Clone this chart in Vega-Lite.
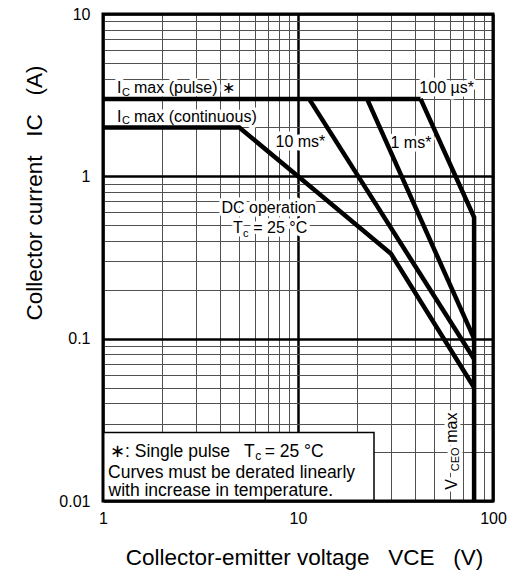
{
  "$schema": "https://vega.github.io/schema/vega-lite/v6.json",
  "width": 390,
  "height": 487,
  "autosize": "none",
  "padding": {"left": 103, "top": 14, "right": 14, "bottom": 76},
  "background": "white",
  "config": {"view": {"stroke": null}},
  "datasets": {
    "curves": [
      {"series": "IC max (pulse)", "i": 0, "x": 1, "y": 3},
      {"series": "IC max (pulse)", "i": 1, "x": 42.5, "y": 3},
      {"series": "100 us", "i": 0, "x": 42.5, "y": 3},
      {"series": "100 us", "i": 1, "x": 80, "y": 0.56},
      {"series": "100 us", "i": 2, "x": 80, "y": 0.01},
      {"series": "1 ms", "i": 0, "x": 22.6, "y": 3},
      {"series": "1 ms", "i": 1, "x": 80, "y": 0.1},
      {"series": "10 ms", "i": 0, "x": 11.4, "y": 3},
      {"series": "10 ms", "i": 1, "x": 80, "y": 0.075},
      {"series": "DC", "i": 0, "x": 1, "y": 2},
      {"series": "DC", "i": 1, "x": 5, "y": 2},
      {"series": "DC", "i": 2, "x": 10, "y": 1},
      {"series": "DC", "i": 3, "x": 30, "y": 0.333},
      {"series": "DC", "i": 4, "x": 80, "y": 0.05}
    ],
    "labels": [
      {"x": 1.18, "y": 3.249, "text": "I", "role": "label"},
      {"x": 1.252, "y": 3.127, "text": "C", "role": "sub"},
      {"x": 1.442, "y": 3.249, "text": "max (pulse) ∗", "role": "label"},
      {"x": 41.9, "y": 3.249, "text": "100 µs*", "role": "label"},
      {"x": 1.18, "y": 2.172, "text": "I", "role": "label"},
      {"x": 1.252, "y": 2.087, "text": "C", "role": "sub"},
      {"x": 1.442, "y": 2.172, "text": "max (continuous)", "role": "label"},
      {"x": 7.665, "y": 1.507, "text": "10 ms*", "role": "label"},
      {"x": 29.82, "y": 1.5, "text": "1 ms*", "role": "label"},
      {"x": 4.053, "y": 0.5928, "text": "DC operation", "role": "label"},
      {"x": 4.642, "y": 0.4464, "text": "T", "role": "label"},
      {"x": 5.223, "y": 0.4235, "text": "c", "role": "sub"},
      {"x": 5.9, "y": 0.4464, "text": "= 25 °C", "role": "label"},
      {"x": 1.086, "y": 0.01879, "text": "∗: Single pulse", "role": "note"},
      {"x": 5.284, "y": 0.01879, "text": "T", "role": "note"},
      {"x": 6.03, "y": 0.01794, "text": "c", "role": "notesub"},
      {"x": 6.75, "y": 0.01879, "text": "= 25 °C", "role": "note"},
      {"x": 1.061, "y": 0.0139, "text": "Curves must be derated linearly", "role": "note"},
      {"x": 1.067, "y": 0.01069, "text": "with increase in temperature.", "role": "note"},
      {"x": 65.0, "y": 0.01172, "text": "V", "role": "vlabel"},
      {"x": 66.9, "y": 0.01524, "text": "CEO", "role": "vsub"},
      {"x": 65.0, "y": 0.02283, "text": "max", "role": "vlabel"}
    ]
  },
  "encoding": {
    "x": {
      "field": "x",
      "type": "quantitative",
      "scale": {"type": "log", "domain": [1, 100], "nice": false},
      "axis": {
        "values": [1, 2, 3, 4, 5, 6, 7, 8, 9, 10, 20, 30, 40, 50, 60, 70, 80, 90, 100],
        "format": "~g",
        "labelExpr": "abs(log(datum.value)/LN10 - round(log(datum.value)/LN10)) < 1e-6 ? datum.label : ''",
        "grid": true,
        "gridColor": {"condition": {"test": "abs(log(datum.value)/LN10 - round(log(datum.value)/LN10)) < 1e-6", "value": "#000000"}, "value": "#505050"},
        "gridWidth": {"condition": {"test": "abs(log(datum.value)/LN10 - round(log(datum.value)/LN10)) < 1e-6", "value": 2.5}, "value": 1},
        "ticks": false,
        "tickSize": 0,
        "domain": false,
        "labelFont": "Liberation Sans",
        "labelFontSize": 16,
        "labelColor": "#000000",
        "labelPadding": 9,
        "labelFlush": false,
        "labelOverlap": false,
        "title": "Collector-emitter voltage \u00a0 VCE \u00a0 (V)",
        "titleFont": "Liberation Sans",
        "titleFontSize": 22.5,
        "titleFontWeight": "normal",
        "titleColor": "#000000",
        "titleX": 201,
        "titleY": 63,
        "titleAlign": "center",
        "titleBaseline": "alphabetic"
      }
    },
    "y": {
      "field": "y",
      "type": "quantitative",
      "scale": {"type": "log", "domain": [0.01, 10], "nice": false},
      "axis": {
        "values": [0.01, 0.02, 0.03, 0.04, 0.05, 0.06, 0.07, 0.08, 0.09, 0.1, 0.2, 0.3, 0.4, 0.5, 0.6, 0.7, 0.8, 0.9, 1, 2, 3, 4, 5, 6, 7, 8, 9, 10],
        "format": "~g",
        "labelExpr": "abs(log(datum.value)/LN10 - round(log(datum.value)/LN10)) < 1e-6 ? datum.label : ''",
        "grid": true,
        "gridColor": {"condition": {"test": "abs(log(datum.value)/LN10 - round(log(datum.value)/LN10)) < 1e-6", "value": "#000000"}, "value": "#505050"},
        "gridWidth": {"condition": {"test": "abs(log(datum.value)/LN10 - round(log(datum.value)/LN10)) < 1e-6", "value": 2.5}, "value": 1},
        "ticks": false,
        "tickSize": 0,
        "domain": false,
        "labelFont": "Liberation Sans",
        "labelFontSize": 16,
        "labelColor": "#000000",
        "labelPadding": 13,
        "labelFlush": false,
        "labelOverlap": false,
        "title": "Collector current \u00a0 IC \u00a0 (A)",
        "titleFont": "Liberation Sans",
        "titleFontSize": 22.5,
        "titleFontWeight": "normal",
        "titleColor": "#000000",
        "titleAngle": 270,
        "titleX": -62,
        "titleY": 178.5,
        "titleAlign": "center",
        "titleBaseline": "alphabetic"
      }
    }
  },
  "layer": [
    {
      "data": {"values": [{"x": 1, "x2": 24.53, "y": 0.01, "y2": 0.02641}]},
      "mark": {"type": "rect", "fill": "white", "stroke": "black", "strokeWidth": 1.5},
      "encoding": {"x2": {"field": "x2"}, "y2": {"field": "y2"}}
    },
    {
      "data": {"name": "labels"},
      "transform": [{"filter": "datum.role == 'label'"}],
      "mark": {"type": "text", "align": "left", "baseline": "alphabetic", "font": "Liberation Sans", "fontSize": 16, "fill": "white", "stroke": "white", "strokeWidth": 7, "strokeJoin": "round"},
      "encoding": {"text": {"field": "text"}}
    },
    {
      "data": {"name": "labels"},
      "transform": [{"filter": "datum.role == 'sub'"}],
      "mark": {"type": "text", "align": "left", "baseline": "alphabetic", "font": "Liberation Sans", "fontSize": 11, "fill": "white", "stroke": "white", "strokeWidth": 7, "strokeJoin": "round"},
      "encoding": {"text": {"field": "text"}}
    },
    {
      "data": {"name": "labels"},
      "transform": [{"filter": "datum.role == 'vlabel'"}],
      "mark": {"type": "text", "align": "left", "baseline": "alphabetic", "angle": 270, "font": "Liberation Sans", "fontSize": 16, "fill": "white", "stroke": "white", "strokeWidth": 7, "strokeJoin": "round"},
      "encoding": {"text": {"field": "text"}}
    },
    {
      "data": {"name": "labels"},
      "transform": [{"filter": "datum.role == 'vsub'"}],
      "mark": {"type": "text", "align": "left", "baseline": "alphabetic", "angle": 270, "font": "Liberation Sans", "fontSize": 11, "fill": "white", "stroke": "white", "strokeWidth": 7, "strokeJoin": "round"},
      "encoding": {"text": {"field": "text"}}
    },
    {
      "data": {"name": "curves"},
      "mark": {"type": "line", "color": "black", "strokeWidth": 4.5, "strokeCap": "butt", "strokeJoin": "miter"},
      "encoding": {
        "detail": {"field": "series"},
        "order": {"field": "i", "type": "quantitative"}
      }
    },
    {
      "data": {"name": "labels"},
      "transform": [{"filter": "datum.role == 'label'"}],
      "mark": {"type": "text", "align": "left", "baseline": "alphabetic", "font": "Liberation Sans", "fontSize": 16, "fill": "black"},
      "encoding": {"text": {"field": "text"}}
    },
    {
      "data": {"name": "labels"},
      "transform": [{"filter": "datum.role == 'sub'"}],
      "mark": {"type": "text", "align": "left", "baseline": "alphabetic", "font": "Liberation Sans", "fontSize": 11, "fill": "black"},
      "encoding": {"text": {"field": "text"}}
    },
    {
      "data": {"name": "labels"},
      "transform": [{"filter": "datum.role == 'note'"}],
      "mark": {"type": "text", "align": "left", "baseline": "alphabetic", "font": "Liberation Sans", "fontSize": 17.5, "fill": "black"},
      "encoding": {"text": {"field": "text"}}
    },
    {
      "data": {"name": "labels"},
      "transform": [{"filter": "datum.role == 'notesub'"}],
      "mark": {"type": "text", "align": "left", "baseline": "alphabetic", "font": "Liberation Sans", "fontSize": 12, "fill": "black"},
      "encoding": {"text": {"field": "text"}}
    },
    {
      "data": {"name": "labels"},
      "transform": [{"filter": "datum.role == 'vlabel'"}],
      "mark": {"type": "text", "align": "left", "baseline": "alphabetic", "angle": 270, "font": "Liberation Sans", "fontSize": 16, "fill": "black"},
      "encoding": {"text": {"field": "text"}}
    },
    {
      "data": {"name": "labels"},
      "transform": [{"filter": "datum.role == 'vsub'"}],
      "mark": {"type": "text", "align": "left", "baseline": "alphabetic", "angle": 270, "font": "Liberation Sans", "fontSize": 11, "fill": "black"},
      "encoding": {"text": {"field": "text"}}
    },
    {
      "data": {"values": [{"x": 1, "x2": 100, "y": 0.01, "y2": 10}]},
      "mark": {"type": "rect", "fill": null, "stroke": "black", "strokeWidth": 3},
      "encoding": {"x2": {"field": "x2"}, "y2": {"field": "y2"}}
    }
  ]
}
